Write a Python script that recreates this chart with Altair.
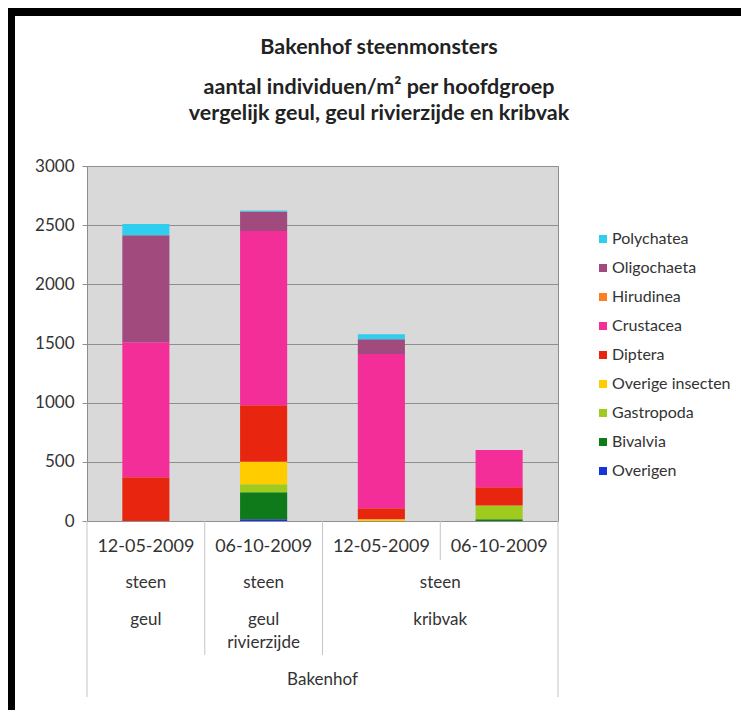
import altair as alt
import pandas as pd

# ---- data ----
dates = ["12-05-2009", "06-10-2009", "12-05-2009", "06-10-2009"]
groups = ["Overigen", "Bivalvia", "Gastropoda", "Overige insecten", "Diptera",
          "Crustacea", "Hirudinea", "Oligochaeta", "Polychatea"]  # bottom -> top
values = {
    "Overigen":         [0, 15, 0, 0],
    "Bivalvia":         [0, 228, 0, 15],
    "Gastropoda":       [0, 67, 0, 115],
    "Overige insecten": [0, 191, 15, 0],
    "Diptera":          [370, 477, 92, 155],
    "Crustacea":        [1140, 1473, 1305, 315],
    "Hirudinea":        [0, 0, 0, 0],
    "Oligochaeta":      [905, 164, 124, 0],
    "Polychatea":       [95, 10, 42, 0],
}
colors = {
    "Polychatea": "#2fcdee",
    "Oligochaeta": "#a04a7e",
    "Hirudinea": "#ff7f1e",
    "Crustacea": "#f32e98",
    "Diptera": "#e8260f",
    "Overige insecten": "#ffcc00",
    "Gastropoda": "#9fcb1e",
    "Bivalvia": "#0f7a1a",
    "Overigen": "#1834d8",
}
row2_labels = ["steen", "steen", "steen"]
row3_labels = ["geul", "geul\nrivierzijde", "kribvak"]
row2_pos = [0.5, 1.5, 3.0]
row4_label = ["Bakenhof"]
title_lines = ["Bakenhof steenmonsters",
               "aantal individuen/m² per hoofdgroep",
               "vergelijk geul, geul rivierzijde en kribvak"]

W, H = 471, 355
PL, PT, PR, PB = 79, 158, 183, 189
FONT = "Lato"
TXT = "#333333"

rows = []
for g_i, g in enumerate(groups):
    for i, v in enumerate(values[g]):
        rows.append({"cat": i, "x0": i + 0.3, "x1": i + 0.7, "groep": g,
                     "value": v, "ord": g_i})
df = pd.DataFrame(rows)

legend_order = list(reversed(groups))
xs = alt.Scale(domain=[0, 4], nice=False, zero=False)
one = pd.DataFrame({"a": [0]})

frame_top = alt.Chart(one).mark_rect(color="black").encode(
    x=alt.value(-PL), x2=alt.value(W + PR), y=alt.value(-PT), y2=alt.value(-PT + 8))
frame_left = alt.Chart(one).mark_rect(color="black").encode(
    x=alt.value(-PL), x2=alt.value(-PL + 7), y=alt.value(-PT), y2=alt.value(H + PB))

bars = alt.Chart(df).transform_stack(
    stack="value", as_=["v0", "v1"], groupby=["cat"],
    sort=[alt.SortField("ord", order="ascending")]
).mark_bar().encode(
    x=alt.X("x0:Q", scale=xs, axis=None),
    x2="x1:Q",
    y=alt.Y("v0:Q",
            scale=alt.Scale(domain=[0, 3000], nice=False),
            axis=alt.Axis(values=[0, 500, 1000, 1500, 2000, 2500, 3000], title=None,
                          format="d", grid=True, gridColor="#8f8f8f", gridWidth=1,
                          tickColor="#8f8f8f", tickSize=5, domain=False,
                          labelFont=FONT, labelFontSize=17, labelColor=TXT,
                          labelPadding=8)),
    y2="v1:Q",
    color=alt.Color("groep:N", scale=alt.Scale(domain=legend_order,
                                              range=[colors[g] for g in legend_order]),
                    legend=alt.Legend(title=None, orient="none", legendX=508, legendY=65,
                                      symbolType="square", symbolSize=64,
                                      symbolStrokeWidth=0, labelFont=FONT,
                                      labelFontSize=16, labelColor=TXT,
                                      rowPadding=13, labelOffset=1, padding=0)),
)

date_df = pd.DataFrame({"pos": [i + 0.5 for i in range(len(dates))], "label": dates})
date_txt = alt.Chart(date_df).mark_text(font=FONT, fontSize=18, color=TXT,
                                        baseline="middle").encode(
    x=alt.X("pos:Q", scale=xs, axis=None), y=alt.value(H + 26), text="label:N")

r2_df = pd.DataFrame({"pos": row2_pos, "label": row2_labels})
r2_txt = alt.Chart(r2_df).mark_text(font=FONT, fontSize=17, color=TXT,
                                    baseline="middle").encode(
    x=alt.X("pos:Q", scale=xs, axis=None), y=alt.value(H + 62), text="label:N")

r3_df = pd.DataFrame({"pos": row2_pos, "label": row3_labels})
r3_txt = alt.Chart(r3_df).mark_text(font=FONT, fontSize=17, color=TXT,
                                    baseline="middle", lineBreak="\n",
                                    lineHeight=23).encode(
    x=alt.X("pos:Q", scale=xs, axis=None), y=alt.value(H + 99), text="label:N")

r4_df = pd.DataFrame({"pos": [2.0], "label": row4_label})
r4_txt = alt.Chart(r4_df).mark_text(font=FONT, fontSize=17, color=TXT,
                                    baseline="middle").encode(
    x=alt.X("pos:Q", scale=xs, axis=None), y=alt.value(H + 159), text="label:N")

rule_col = "#c4c4c4"
edges = alt.Chart(pd.DataFrame({"b": [0, 4]})).mark_rule(color=rule_col).encode(
    x=alt.X("b:Q", scale=xs, axis=None), y=alt.value(H), y2=alt.value(H + 176))
inner = alt.Chart(pd.DataFrame({"b": [1, 2]})).mark_rule(color=rule_col).encode(
    x=alt.X("b:Q", scale=xs, axis=None), y=alt.value(H), y2=alt.value(H + 134))
short = alt.Chart(pd.DataFrame({"b": [3]})).mark_rule(color=rule_col).encode(
    x=alt.X("b:Q", scale=xs, axis=None), y=alt.value(H), y2=alt.value(H + 39))

title_y = [-118, -78, -52]
title_layers = [
    alt.Chart(pd.DataFrame({"line": [t]})).mark_text(
        font=FONT, fontSize=21.5, fontWeight="bold", color="#222222",
        baseline="middle").encode(x=alt.value(292), y=alt.value(yy), text="line:N")
    for t, yy in zip(title_lines, title_y)
]

chart = alt.layer(frame_top, frame_left, bars, edges, inner, short, date_txt, r2_txt,
                  r3_txt, r4_txt, *title_layers).properties(
    width=W, height=H,
    autosize=alt.AutoSizeParams(type="none"),
    padding={"left": PL, "top": PT, "right": PR, "bottom": PB},
    background="white",
).configure_view(fill="#d9d9d9", stroke="#8c8c8c", strokeWidth=1)

chart.save("out.html", embed_options={"renderer": "svg", "actions": False})
